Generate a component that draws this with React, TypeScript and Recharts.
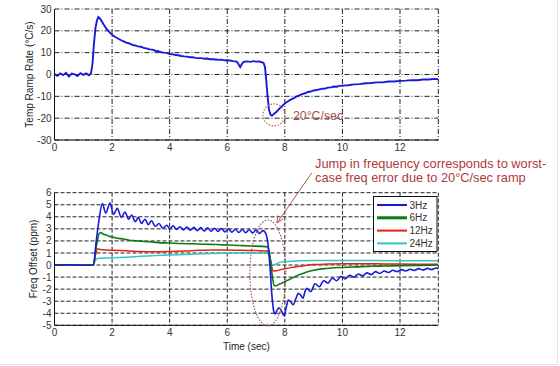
import React from 'react';
import { LineChart, Line, XAxis, YAxis, CartesianGrid, ReferenceDot, Legend } from 'recharts';

const xTicks = [0, 2, 4, 6, 8, 10, 12];
const tempTicks = [-30, -20, -10, 0, 10, 20, 30];
const freqTicks = [-5, -4, -3, -2, -1, 0, 1, 2, 3, 4, 5, 6];

const seriesNames = ['3Hz', '6Hz', '12Hz', '24Hz'];
const seriesColors = ['#1a1ad6', '#0b7a12', '#e0221e', '#35c4c4'];
const seriesWidths = [1.6, 1.6, 1.5, 1.5];

// Temp ramp rate (°C/s) vs time (sec)
const tempRamp: [number, number][] = [
  [0, 0.2], [0.1, -0.6], [0.2, 0.5], [0.3, -0.3], [0.4, 0.8], [0.5, -0.9], [0.6, 0.4], [0.7, 0.1],
  [0.8, -0.7], [0.9, 0.6], [1.0, -0.2], [1.1, 0.5], [1.2, -0.4], [1.27, 0.6], [1.32, 5], [1.37, 14],
  [1.42, 21], [1.47, 24.5], [1.52, 26.3], [1.57, 25.8], [1.62, 24.8], [1.7, 23], [1.8, 21], [1.9, 19.5],
  [2.0, 18.2], [2.1, 17.3], [2.2, 16.5], [2.3, 15.8], [2.4, 15.2], [2.5, 14.6], [2.6, 14.2], [2.7, 13.6],
  [2.8, 13.3], [2.9, 12.9], [3.0, 12.7], [3.1, 12.2], [3.2, 12.0], [3.3, 11.5], [3.4, 11.4], [3.5, 10.9],
  [3.6, 10.7], [3.7, 10.2], [3.8, 10.0], [3.9, 9.9], [4.0, 9.4], [4.1, 9.3], [4.2, 8.9], [4.3, 8.8],
  [4.4, 8.5], [4.5, 8.3], [4.6, 8.2], [4.7, 7.9], [4.8, 7.9], [4.9, 7.6], [5.0, 7.5], [5.1, 7.5],
  [5.2, 7.2], [5.3, 7.3], [5.4, 7.0], [5.5, 7.0], [5.6, 6.9], [5.7, 6.7], [5.8, 6.8], [5.9, 6.5],
  [6.0, 6.4], [6.1, 6.4], [6.2, 6.1], [6.3, 6.0], [6.36, 5.5], [6.41, 4.2], [6.45, 3.4], [6.5, 4.6],
  [6.55, 5.6], [6.6, 5.9], [6.7, 6.0], [6.8, 5.8], [6.9, 6.1], [7.0, 5.9], [7.1, 6.0], [7.2, 5.6],
  [7.26, 5.3], [7.31, 3.5], [7.35, -2], [7.4, -10], [7.45, -16], [7.5, -18.4], [7.55, -18.8], [7.6, -18.3],
  [7.7, -17.2], [7.8, -15.8], [7.9, -14.5], [8.0, -13.3], [8.1, -12.4], [8.2, -11.5], [8.3, -10.9], [8.4, -10.1],
  [8.5, -9.6], [8.6, -9.0], [8.7, -8.6], [8.8, -8.0], [8.9, -7.8], [9.0, -7.3], [9.1, -7.1], [9.2, -6.8],
  [9.3, -6.5], [9.4, -6.4], [9.5, -6.0], [9.6, -5.9], [9.7, -5.5], [9.8, -5.6], [9.9, -5.2], [10.0, -5.1],
  [10.2, -4.9], [10.4, -4.5], [10.6, -4.4], [10.8, -4.0], [11.0, -3.9], [11.2, -3.6], [11.4, -3.6], [11.6, -3.2],
  [11.8, -3.2], [12.0, -2.9], [12.2, -2.8], [12.4, -2.6], [12.6, -2.6], [12.8, -2.3], [13.0, -2.3], [13.2, -2.0],
  [13.33, -2.1],
];

// Freq offset (ppm), 3Hz
const hz3: [number, number][] = [
  [0, 0], [0.5, 0.02], [1.0, -0.02], [1.35, 0], [1.45, 2.0], [1.55, 3.8], [1.66, 5.1], [1.78, 4.3],
  [1.93, 5.15], [2.05, 4.2], [2.18, 4.7], [2.32, 3.95], [2.45, 4.4], [2.57, 3.8], [2.68, 4.15], [2.8, 3.6],
  [2.91, 3.95], [3.02, 3.45], [3.14, 3.8], [3.26, 3.35], [3.37, 3.67], [3.5, 3.2], [3.63, 3.45], [3.76, 3.05],
  [3.9, 3.3], [4.01, 3.0], [4.12, 3.26], [4.24, 2.95], [4.36, 3.18], [4.48, 2.9], [4.6, 3.15], [4.72, 2.88],
  [4.84, 3.12], [4.96, 2.85], [5.08, 3.1], [5.2, 2.82], [5.32, 3.08], [5.44, 2.8], [5.56, 3.05], [5.68, 2.78],
  [5.8, 3.02], [5.92, 2.75], [6.04, 3.0], [6.16, 2.72], [6.28, 2.97], [6.4, 2.7], [6.52, 2.95], [6.64, 2.68],
  [6.76, 2.93], [6.88, 2.65], [7.0, 2.9], [7.12, 2.62], [7.24, 2.85], [7.32, 2.7], [7.4, 2.0], [7.48, 0],
  [7.55, -2.5], [7.62, -3.9], [7.66, -4.05], [7.72, -3.8], [7.8, -3.55], [7.9, -3.9], [7.98, -4.2], [8.05, -3.5],
  [8.12, -2.9], [8.2, -3.05], [8.29, -3.3], [8.38, -2.8], [8.47, -2.35], [8.55, -2.5], [8.63, -2.76], [8.7, -2.2],
  [8.76, -1.93], [8.9, -2.2], [9.05, -1.55], [9.2, -1.8], [9.35, -1.3], [9.5, -1.5], [9.65, -1.1], [9.8, -1.3],
  [9.95, -0.95], [10.1, -1.15], [10.25, -0.85], [10.4, -1.0], [10.55, -0.75], [10.7, -0.9], [10.85, -0.65], [11.0, -0.8],
  [11.15, -0.55], [11.3, -0.7], [11.45, -0.5], [11.6, -0.62], [11.75, -0.43], [11.9, -0.55], [12.05, -0.38], [12.2, -0.5],
  [12.35, -0.35], [12.5, -0.45], [12.65, -0.3], [12.8, -0.42], [12.95, -0.28], [13.1, -0.38], [13.25, -0.25], [13.33, -0.3],
];

// Freq offset (ppm), 6Hz
const hz6: [number, number][] = [
  [0, 0], [1.35, 0], [1.45, 1.5], [1.55, 2.6], [1.6, 2.7], [1.7, 2.55], [1.8, 2.5], [1.9, 2.38],
  [2.0, 2.32], [2.2, 2.22], [2.4, 2.16], [2.6, 2.06], [2.8, 2.02], [3.0, 1.98], [3.3, 1.93], [3.6, 1.86],
  [4.0, 1.83], [4.4, 1.78], [4.8, 1.76], [5.2, 1.72], [5.6, 1.7], [6.0, 1.66], [6.4, 1.62], [6.8, 1.58],
  [7.2, 1.55], [7.4, 1.5], [7.45, 1.2], [7.52, 0], [7.58, -1.2], [7.63, -1.7], [7.7, -1.72], [7.8, -1.6],
  [7.9, -1.5], [8.0, -1.38], [8.2, -1.15], [8.4, -0.9], [8.6, -0.72], [8.8, -0.55], [9.05, -0.41], [9.3, -0.32],
  [9.6, -0.25], [10.0, -0.2], [10.5, -0.15], [11.0, -0.1], [11.5, -0.08], [12.0, -0.05], [12.5, -0.03], [13.0, -0.02],
  [13.33, 0],
];

// Freq offset (ppm), 12Hz
const hz12: [number, number][] = [
  [0, 0], [1.35, 0], [1.42, 0.8], [1.5, 1.35], [1.6, 1.28], [1.8, 1.24], [2.0, 1.22], [2.5, 1.18],
  [3.0, 1.12], [3.5, 1.1], [4.0, 1.12], [4.5, 1.16], [5.0, 1.22], [5.5, 1.25], [6.0, 1.25], [6.5, 1.22],
  [7.0, 1.2], [7.4, 1.16], [7.47, 0.8], [7.53, 0], [7.6, -0.5], [7.7, -0.48], [7.85, -0.38], [8.0, -0.3],
  [8.3, -0.18], [8.6, -0.08], [9.0, 0.05], [9.5, 0.08], [10.0, 0.1], [11.0, 0.1], [12.0, 0.08], [13.33, 0.06],
];

// Freq offset (ppm), 24Hz
const hz24: [number, number][] = [
  [0, 0], [1.35, 0], [1.4, 0.3], [1.48, 0.55], [1.6, 0.57], [2.0, 0.6], [2.5, 0.65], [3.0, 0.72],
  [3.5, 0.78], [4.0, 0.84], [4.5, 0.88], [5.0, 0.92], [5.5, 0.96], [6.0, 0.98], [6.5, 1.0], [7.0, 1.0],
  [7.4, 0.98], [7.48, 0.6], [7.55, 0.05], [7.62, 0.0], [7.7, 0.1], [7.8, 0.2], [8.0, 0.28], [8.5, 0.35],
  [9.0, 0.38], [10.0, 0.38], [11.0, 0.37], [12.0, 0.35], [13.33, 0.35],
];

const freqSeries = [hz3, hz6, hz12, hz24];

const toRows = (pairs: [number, number][]) => pairs.map(([t, v]) => ({ t, v }));

const FONT = '"Liberation Sans", Arial, sans-serif';
const tickStyle = { fontSize: 10, fill: '#333', fontFamily: FONT };
const xDomain: [number, number] = [0, 13.33];

const LegendBox = () => (
  <svg width={65} height={57} style={{ display: 'block' }}>
    <rect x={0.5} y={0.5} width={63.5} height={55} fill="#fff" stroke="#111" strokeWidth={1} />
    {seriesNames.map((name, i) => (
      <g key={name}>
        <line x1={4} x2={34} y1={9 + 12.8 * i} y2={9 + 12.8 * i} stroke={seriesColors[i]} strokeWidth={i === 1 ? 3 : 2} />
        <text x={36.5} y={9 + 12.8 * i} dy="0.35em" fontSize={10} fill="#333" fontFamily={FONT}>
          {name}
        </text>
      </g>
    ))}
  </svg>
);

const ellipseShape = (rx: number, ry: number, color: string) => (props: any) => (
  <ellipse cx={props.cx} cy={props.cy} rx={rx} ry={ry} fill="none" stroke={color} strokeWidth={1.2} strokeDasharray="1.5 1.5" />
);

export default function App() {
  return (
    <div style={{ position: 'absolute', left: 0, top: 0, width: 560, height: 366, background: '#fff', overflow: 'hidden' }}>
      <div style={{ position: 'absolute', left: 0, top: 0 }}>
        <LineChart width={560} height={160} margin={{ top: 9, right: 121.7, left: 0, bottom: 0 }}>
          <CartesianGrid stroke="#222" strokeDasharray="5 2 1 2" strokeWidth={1} />
          <XAxis type="number" dataKey="t" domain={xDomain} ticks={xTicks} allowDataOverflow height={20}
            tickSize={0} tickMargin={4} tick={tickStyle} axisLine={{ stroke: '#111' }} />
          <XAxis xAxisId="top" orientation="top" type="number" dataKey="t" domain={xDomain} height={0}
            tick={false} tickLine={false} axisLine={{ stroke: '#111' }} />
          <YAxis type="number" domain={[-30, 30]} ticks={tempTicks} width={54.5} tickSize={0} tickMargin={3}
            tick={tickStyle} axisLine={{ stroke: '#111' }} interval={0}
            label={{ value: 'Temp Ramp Rate (°C/s)', angle: -90, position: 'center', dx: 2, style: { fontSize: 10, fill: '#222', fontFamily: FONT } }} />
          <YAxis yAxisId="right" orientation="right" domain={[-30, 30]} width={0} tick={false} tickLine={false}
            axisLine={{ stroke: '#111' }} />
          <Line data={toRows(tempRamp)} dataKey="v" type="linear" stroke="#1a1ad6" strokeWidth={1.9} dot={false}
            isAnimationActive={false} />
          <ReferenceDot x={7.62} y={-18.5} r={11} ifOverflow="visible" shape={ellipseShape(11, 11, '#b2723e')} />
        </LineChart>
      </div>
      <div style={{ position: 'absolute', left: 0, top: 180 }}>
        <LineChart width={560} height={180} margin={{ top: 12.7, right: 121.7, left: 0, bottom: 0 }}>
          <CartesianGrid stroke="#222" strokeDasharray="4 2" strokeWidth={1} />
          <XAxis type="number" dataKey="t" domain={xDomain} ticks={xTicks} allowDataOverflow height={34.7}
            tickSize={0} tickMargin={4} tick={tickStyle} axisLine={{ stroke: '#111' }}
            label={{ value: 'Time (sec)', position: 'insideBottom', offset: 10, style: { fontSize: 10, fill: '#222', fontFamily: FONT } }} />
          <XAxis xAxisId="top" orientation="top" type="number" dataKey="t" domain={xDomain} height={0}
            tick={false} tickLine={false} axisLine={{ stroke: '#111' }} />
          <YAxis type="number" domain={[-5, 6]} ticks={freqTicks} width={54.5} tickSize={0} tickMargin={3}
            tick={tickStyle} axisLine={{ stroke: '#111' }} interval={0}
            label={{ value: 'Freq Offset (ppm)', angle: -90, position: 'center', dx: 6, style: { fontSize: 10, fill: '#222', fontFamily: FONT } }} />
          <YAxis yAxisId="right" orientation="right" domain={[-5, 6]} width={0} tick={false} tickLine={false}
            axisLine={{ stroke: '#111' }} />
          {freqSeries.map((s, i) => (
            <Line key={seriesNames[i]} name={seriesNames[i]} data={toRows(s)} dataKey="v" type="monotone"
              stroke={seriesColors[i]} strokeWidth={seriesWidths[i]} dot={false} isAnimationActive={false} />
          )).reverse()}
          <ReferenceDot x={7.41} y={-0.66} r={18} ifOverflow="visible" shape={ellipseShape(18, 53, '#a45a5a')} />
          <Legend layout="vertical" align="center" verticalAlign="middle"
            wrapperStyle={{ position: 'absolute', left: 372.5, top: 16, width: 65, height: 57, margin: 0 }}
            content={() => <LegendBox />} />
        </LineChart>
      </div>
      <svg width={560} height={366} style={{ position: 'absolute', left: 0, top: 0, pointerEvents: 'none' }}>
        <text x={293} y={116} dy="0.35em" fontSize={12.3} fill="#a8504a" fontFamily={FONT}>20°C/sec</text>
        <text x={315} y={163.3} dy="0.35em" fontSize={12.8} fill="#ad3a3c" fontFamily={FONT}>
          Jump in frequency corresponds to worst-
        </text>
        <text x={315} y={177.7} dy="0.35em" fontSize={12.8} fill="#ad3a3c" fontFamily={FONT}>
          case freq error due to 20°C/sec ramp
        </text>
        <line x1={311.7} y1={173} x2={277} y2={223} stroke="#a45a5a" strokeWidth={1} />
        <path d="M 277 223 L 277.6 215.5 M 277 223 L 283.2 218.8" stroke="#a45a5a" strokeWidth={1} fill="none" />
        <line x1={557.5} y1={0} x2={557.5} y2={364.5} stroke="#e2e2e2" strokeWidth={1} />
        <line x1={0} y1={364.5} x2={557.5} y2={364.5} stroke="#e2e2e2" strokeWidth={1} />
      </svg>
    </div>
  );
}
